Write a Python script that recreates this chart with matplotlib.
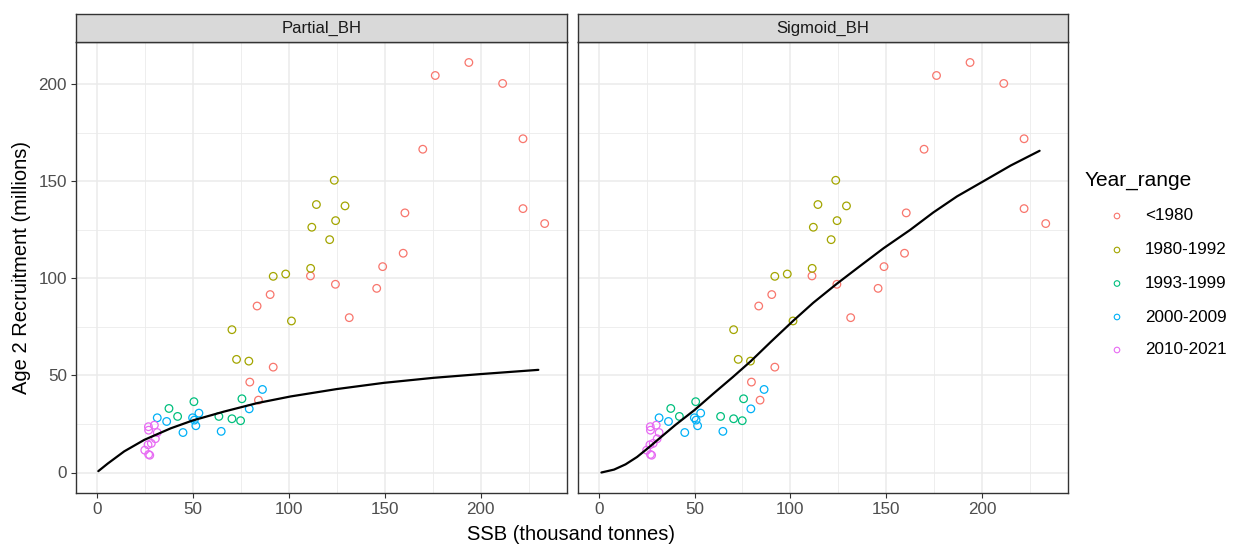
import numpy as np
import matplotlib
matplotlib.use("Agg")
import matplotlib.pyplot as plt

plt.rcParams["font.family"] = ["Liberation Sans", "DejaVu Sans"]

# stock-recruitment observations by year range (SSB in thousand tonnes, recruits in millions)
year_ranges = ["<1980", "1980-1992", "1993-1999", "2000-2009", "2010-2021"]
range_colors = ["#F8766D", "#A3A500", "#00BF7D", "#00B0F6", "#E76BF3"]

ssb_lt1980 = [193.8, 176.3, 211.4, 222.0, 169.8, 222.0, 233.3, 160.5, 159.6, 148.9,
              145.8, 111.3, 124.3, 131.5, 90.3, 83.5, 91.9, 79.7, 84.2]
rec_lt1980 = [211.3, 204.6, 200.5, 172.0, 166.6, 136.0, 128.3, 133.8, 113.0, 106.1,
              94.9, 101.3, 97.0, 79.8, 91.7, 85.8, 54.3, 46.6, 37.3]

ssb_1980_1992 = [123.7, 114.4, 129.3, 124.4, 112.0, 121.3, 111.4, 91.9, 98.4, 101.4,
                 70.4, 72.8, 79.2]
rec_1980_1992 = [150.6, 138.1, 137.4, 129.8, 126.4, 120.0, 105.2, 101.1, 102.3, 78.1,
                 73.6, 58.3, 57.4]

ssb_1993_1999 = [37.6, 50.6, 75.6, 42.1, 63.6, 70.4, 74.9]
rec_1993_1999 = [33.0, 36.5, 38.0, 28.9, 28.9, 27.7, 26.7]

ssb_2000_2009 = [86.3, 79.4, 31.5, 36.4, 53.2, 49.9, 50.8, 51.6, 44.9, 64.8]
rec_2000_2009 = [42.8, 32.8, 28.2, 26.3, 30.6, 28.2, 27.0, 24.1, 20.6, 21.2]

ssb_2010_2021 = [26.9, 27.0, 30.0, 31.5, 30.5, 28.4, 26.7, 25.0, 27.0, 27.6]
rec_2010_2021 = [23.6, 21.8, 24.4, 20.6, 17.4, 15.0, 14.3, 11.5, 9.3, 8.9]

# fitted model curves
partial_bh_ssb = [0.8, 5.7, 14.3, 24.7, 38.6, 49.9, 66.3, 83.7, 101.0, 125.0, 149.5,
                  175.5, 199.7, 230.0]
partial_bh_rec = [0.7, 4.6, 10.9, 16.8, 22.8, 26.8, 31.4, 35.8, 39.2, 43.0, 46.2,
                  48.8, 50.7, 52.9]

sigmoid_bh_ssb = [1.4, 8.0, 14.0, 20.0, 26.0, 31.0, 40.0, 50.0, 60.0, 70.0, 79.4, 90.0,
                  101.4, 112.0, 124.3, 136.5, 148.7, 162.5, 174.6, 187.0, 200.6, 215.0,
                  230.1]
sigmoid_bh_rec = [0.0, 1.5, 4.2, 8.0, 12.8, 17.0, 24.5, 32.2, 40.8, 49.2, 57.4, 67.5,
                  78.1, 87.5, 97.3, 106.5, 115.6, 125.0, 134.0, 142.3, 150.0, 158.2,
                  165.8]

groups = [
    (ssb_lt1980, rec_lt1980),
    (ssb_1980_1992, rec_1980_1992),
    (ssb_1993_1999, rec_1993_1999),
    (ssb_2000_2009, rec_2000_2009),
    (ssb_2010_2021, rec_2010_2021),
]
panels = [
    ("Partial_BH", partial_bh_ssb, partial_bh_rec),
    ("Sigmoid_BH", sigmoid_bh_ssb, sigmoid_bh_rec),
]

W, H = 1238, 548
fig = plt.figure(figsize=(W / 100, H / 100), dpi=100)


def px_box(x0, y0, x1, y1):
    # pixel box (top-left origin) -> figure fraction rect
    return [x0 / W, 1 - y1 / H, (x1 - x0) / W, (y1 - y0) / H]


# shared scales with ggplot-style 5% expansion
all_x = np.concatenate([np.ravel(g[0]) for g in groups] + [np.ravel(p[1]) for p in panels])
all_y = np.concatenate([np.ravel(g[1]) for g in groups] + [np.ravel(p[2]) for p in panels])
xr = all_x.max() - all_x.min()
yr = all_y.max() - all_y.min()
xlim = (all_x.min() - 0.05 * xr, all_x.max() + 0.05 * xr)
ylim = (all_y.min() - 0.05 * yr, all_y.max() + 0.05 * yr)

panel_x = [(76, 567), (578, 1068)]
top, bottom = 42, 493
strip_top = 14

for i, (name, cx, cy) in enumerate(panels):
    x0, x1 = panel_x[i]
    ax = fig.add_axes(px_box(x0, top, x1, bottom))
    ax.set_facecolor("white")
    ax.set_xlim(xlim)
    ax.set_ylim(ylim)
    ax.set_xticks([0, 50, 100, 150, 200])
    ax.set_xticks([25, 75, 125, 175, 225], minor=True)
    ax.set_yticks([0, 50, 100, 150, 200])
    ax.set_yticks([25, 75, 125, 175], minor=True)
    ax.grid(which="major", color="#EBEBEB", linewidth=1.1)
    ax.grid(which="minor", color="#EBEBEB", linewidth=0.6)
    ax.set_axisbelow(True)
    for sp in ax.spines.values():
        sp.set_color("#333333")
        sp.set_linewidth(1.0)
    ax.tick_params(which="major", direction="out", length=3.5, width=0.8,
                   color="#333333", labelcolor="#4D4D4D", labelsize=12.3, pad=3)
    ax.tick_params(which="minor", length=0)
    if i > 0:
        ax.tick_params(axis="y", which="both", left=False, labelleft=False)

    for (gx, gy), col in zip(groups, range_colors):
        ax.scatter(gx, gy, s=30, facecolors="none", edgecolors=col, linewidths=0.9, zorder=3)
    ax.plot(cx, cy, color="black", linewidth=1.6, zorder=4, solid_capstyle="round")

    # facet strip
    sax = fig.add_axes(px_box(x0, strip_top, x1, top))
    sax.set_facecolor("#D9D9D9")
    sax.set_xticks([])
    sax.set_yticks([])
    for sp in sax.spines.values():
        sp.set_color("#333333")
        sp.set_linewidth(1.0)
    sax.text(0.5, 0.5, name, ha="center", va="center", fontsize=12, color="#1A1A1A",
             transform=sax.transAxes)

# axis titles
fig.text(571 / W, 1 - 535 / H, "SSB (thousand tonnes)", ha="center", va="center",
         fontsize=14.5, color="black")
fig.text(22 / W, 1 - 268 / H, "Age 2 Recruitment (millions)", ha="center", va="center",
         rotation=90, fontsize=14.5, color="black")

# legend drawn in pixel space
lax = fig.add_axes([0, 0, 1, 1], facecolor="none")
lax.set_xlim(0, W)
lax.set_ylim(H, 0)
lax.axis("off")
lax.text(1085, 181, "Year_range", ha="left", va="center", fontsize=15, color="black")
key_y = [216, 250, 283.5, 317, 350]
for lab, col, ky in zip(year_ranges, range_colors, key_y):
    lax.scatter([1117], [ky], s=16, facecolors="none", edgecolors=col, linewidths=0.8)
    lax.text(1145, ky, lab, ha="left", va="center", fontsize=12.3, color="black")

fig.savefig("out.png", dpi=100)
